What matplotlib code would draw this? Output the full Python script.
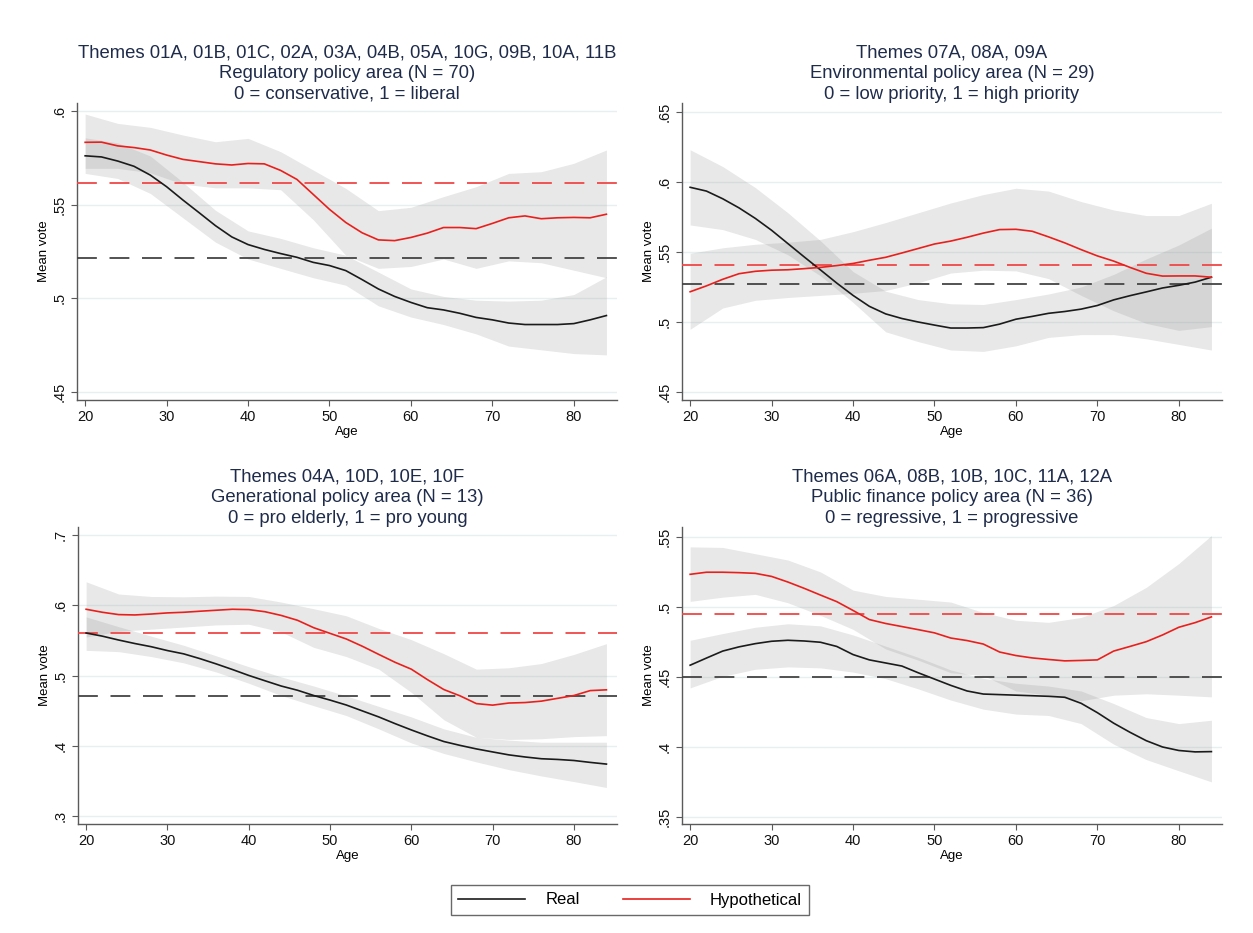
import matplotlib
matplotlib.use('Agg')
import matplotlib.pyplot as plt
from matplotlib.lines import Line2D

plt.rcParams['font.family'] = ['Liberation Sans', 'DejaVu Sans']

# ages of the smoothed lines and of the confidence bands
ages = list(range(20, 86, 2))
band_ages = list(range(20, 86, 4))

# --- Regulatory policy area
reg_real = [.5761, .5755, .5733, .5705, .5658, .5596, .5525, .5457, .5388, .5328, .5287,
            .5261, .5239, .5219, .5192, .5175, .5148, .5100, .5050, .5010, .4978, .4950,
            .4938, .4920, .4898, .4885, .4868, .4860, .4860, .4860, .4865, .4885, .4908]
reg_hyp = [.5833, .5834, .5814, .5805, .5792, .5765, .5742, .5730, .5718, .5712, .5720,
           .5718, .5683, .5635, .5555, .5475, .5405, .5350, .5312, .5308, .5325, .5348,
           .5378, .5378, .5372, .5400, .5430, .5440, .5425, .5430, .5432, .5430, .5449]
reg_real_hi = [.5857, .5830, .5760, .5620, .5470, .5360, .5320, .5270, .5230, .5140, .5050,
               .5010, .4990, .4985, .4990, .5020, .5115]
reg_real_lo = [.5667, .5640, .5560, .5430, .5300, .5210, .5160, .5110, .5070, .4960, .4900,
               .4860, .4810, .4745, .4725, .4705, .4698]
reg_hyp_hi = [.5984, .5934, .5913, .5872, .5836, .5854, .5783, .5685, .5587, .5468, .5486,
              .5543, .5596, .5667, .5676, .5721, .5792]
reg_hyp_lo = [.5694, .5694, .5670, .5610, .5590, .5590, .5580, .5420, .5230, .5160, .5170,
              .5210, .5160, .5200, .5190, .5150, .5110]
reg_means = [.5213, .5614]

# --- Environmental policy area
env_real = [.5962, .5935, .5880, .5815, .5740, .5655, .5560, .5465, .5372, .5278, .5190,
            .5112, .5058, .5025, .5000, .4978, .4957, .4957, .4960, .4985, .5020, .5040,
            .5062, .5075, .5092, .5118, .5158, .5188, .5215, .5243, .5262, .5285, .5320]
env_hyp = [.5216, .5258, .5305, .5345, .5362, .5370, .5373, .5381, .5390, .5403, .5418,
           .5441, .5462, .5493, .5525, .5557, .5578, .5605, .5635, .5660, .5662, .5648,
           .5608, .5565, .5517, .5472, .5435, .5390, .5348, .5328, .5329, .5329, .5320]
env_real_hi = [.6230, .6110, .5960, .5780, .5580, .5360, .5220, .5160, .5130, .5125, .5160,
               .5200, .5250, .5340, .5450, .5550, .5670]
env_real_lo = [.5693, .5660, .5590, .5480, .5330, .5140, .4930, .4860, .4800, .4790, .4830,
               .4890, .4910, .4910, .4880, .4840, .4800]
env_hyp_hi = [.5491, .5530, .5555, .5570, .5590, .5645, .5710, .5780, .5850, .5910, .5955,
              .5935, .5860, .5800, .5760, .5760, .5848]
env_hyp_lo = [.4948, .5100, .5155, .5175, .5190, .5205, .5225, .5280, .5350, .5370, .5365,
              .5310, .5190, .5080, .4990, .4940, .4967]
env_means = [.5269, .5407]

# --- Generational policy area
gen_real = [.5605, .5560, .5505, .5455, .5410, .5355, .5308, .5240, .5165, .5085, .5001,
            .4925, .4850, .4790, .4715, .4650, .4580, .4495, .4410, .4315, .4225, .4140,
            .4060, .4005, .3955, .3912, .3870, .3840, .3815, .3805, .3790, .3763, .3739]
gen_hyp = [.5943, .5900, .5867, .5862, .5875, .5891, .5900, .5915, .5929, .5943, .5938,
           .5908, .5855, .5786, .5680, .5600, .5520, .5415, .5300, .5188, .5090, .4940,
           .4800, .4710, .4600, .4578, .4608, .4615, .4635, .4675, .4715, .4785, .4796]
gen_real_hi = [.5834, .5695, .5560, .5430, .5280, .5125, .4980, .4850, .4710, .4560, .4410,
               .4240, .4120, .4080, .4050, .4050, .4050]
gen_real_lo = [.5358, .5340, .5270, .5180, .5050, .4890, .4715, .4570, .4430, .4240, .4040,
               .3890, .3770, .3660, .3570, .3490, .3406]
gen_hyp_hi = [.6334, .6160, .6125, .6120, .6130, .6125, .6045, .5950, .5850, .5670, .5510,
              .5310, .5090, .5110, .5170, .5300, .5453]
gen_hyp_lo = [.5548, .5630, .5660, .5690, .5720, .5730, .5620, .5400, .5270, .5090, .4760,
              .4370, .4120, .4090, .4100, .4130, .4144]
gen_means = [.4706, .5610]

# --- Public finance policy area
fin_real = [.4584, .4635, .4685, .4715, .4738, .4755, .4762, .4757, .4748, .4718, .4660,
            .4622, .4600, .4578, .4530, .4485, .4440, .4400, .4378, .4374, .4370, .4366,
            .4362, .4355, .4312, .4245, .4170, .4105, .4045, .4000, .3975, .3965, .3967]
fin_hyp = [.5233, .5248, .5248, .5245, .5240, .5218, .5178, .5133, .5085, .5038, .4975,
           .4910, .4882, .4860, .4838, .4815, .4778, .4760, .4735, .4678, .4653, .4636,
           .4625, .4615, .4618, .4622, .4685, .4718, .4752, .4800, .4855, .4888, .4929]
fin_real_hi = [.4762, .4810, .4855, .4880, .4865, .4800, .4720, .4640, .4550, .4490, .4455,
               .4435, .4400, .4310, .4210, .4167, .4191]
fin_real_lo = [.4422, .4505, .4555, .4572, .4565, .4535, .4488, .4415, .4335, .4270, .4235,
               .4225, .4167, .4020, .3910, .3830, .3751]
fin_hyp_hi = [.5429, .5425, .5380, .5335, .5250, .5120, .5075, .5055, .5035, .4960, .4905,
              .4890, .4925, .5010, .5140, .5310, .5510]
fin_hyp_lo = [.5040, .5070, .5090, .5030, .4940, .4840, .4700, .4620, .4530, .4510, .4400,
              .4370, .4330, .4370, .4380, .4370, .4358]
fin_means = [.4500, .4953]

titles = [
    'Themes 01A, 01B, 01C, 02A, 03A, 04B, 05A, 10G, 09B, 10A, 11B\n'
    'Regulatory policy area (N = 70)\n0 = conservative, 1 = liberal',
    'Themes 07A, 08A, 09A\nEnvironmental policy area (N = 29)\n0 = low priority, 1 = high priority',
    'Themes 04A, 10D, 10E, 10F\nGenerational policy area (N = 13)\n0 = pro elderly, 1 = pro young',
    'Themes 06A, 08B, 10B, 10C, 11A, 12A\nPublic finance policy area (N = 36)\n0 = regressive, 1 = progressive',
]
y_ticks = [[.45, .5, .55, .6], [.45, .5, .55, .6, .65], [.3, .4, .5, .6, .7], [.35, .4, .45, .5, .55]]
y_tick_labels = [['.45', '.5', '.55', '.6'], ['.45', '.5', '.55', '.6', '.65'],
                 ['.3', '.4', '.5', '.6', '.7'], ['.35', '.4', '.45', '.5', '.55']]
y_limits = [(.4457, .6043), (.4443, .6564), (.2886, .7114), (.345, .5571)]
x_ticks = [20, 30, 40, 50, 60, 70, 80]

panels = [
    (reg_real, reg_hyp, reg_real_lo, reg_real_hi, reg_hyp_lo, reg_hyp_hi, reg_means),
    (env_real, env_hyp, env_real_lo, env_real_hi, env_hyp_lo, env_hyp_hi, env_means),
    (gen_real, gen_hyp, gen_real_lo, gen_real_hi, gen_hyp_lo, gen_hyp_hi, gen_means),
    (fin_real, fin_hyp, fin_real_lo, fin_real_hi, fin_hyp_lo, fin_hyp_hi, fin_means),
]

W, H = 1253, 933
# axes boxes in pixels: left, top, right, bottom
boxes = [(77, 103, 617, 400), (682, 103, 1222, 400), (78, 527, 617, 824), (682, 527, 1222, 824)]

RED = '#e8201c'
BLACK = '#1b1b1b'
BAND = '#8c8c8c'
TITLE = '#1e2b4a'
SPINE = '#5a5a5a'

fig = plt.figure(figsize=(W / 100, H / 100), dpi=100)

for i, (real, hyp, r_lo, r_hi, h_lo, h_hi, means) in enumerate(panels):
    l, t, r, b = boxes[i]
    ax = fig.add_axes([l / W, (H - b) / H, (r - l) / W, (b - t) / H])

    ax.fill_between(band_ages, r_lo, r_hi, color=BAND, alpha=0.2, linewidth=0)
    ax.fill_between(band_ages, h_lo, h_hi, color=BAND, alpha=0.2, linewidth=0)

    ax.axhline(means[0], color='#444444', linewidth=1.3, dashes=(11, 7), zorder=3)
    ax.axhline(means[1], color='#f04848', linewidth=1.3, dashes=(11, 7), zorder=3)

    ax.plot(ages, real, color=BLACK, linewidth=1.2, zorder=4)
    ax.plot(ages, hyp, color=RED, linewidth=1.2, zorder=4)

    ax.set_xlim(19, 85.3)
    ax.set_ylim(*y_limits[i])
    ax.set_xticks(x_ticks)
    ax.set_yticks(y_ticks[i])
    ax.set_yticklabels(y_tick_labels[i], rotation=90, va='center')
    ax.grid(axis='y', color='#e6f0f1', linewidth=1.0, zorder=0)
    ax.set_axisbelow(True)

    for side in ['top', 'right']:
        ax.spines[side].set_visible(False)
    for side in ['left', 'bottom']:
        ax.spines[side].set_color(SPINE)
        ax.spines[side].set_linewidth(1.0)
    ax.tick_params(colors=SPINE, labelcolor='#111111', labelsize=10.5, length=4, width=0.8)

    ax.set_xlabel('Age', fontsize=9.5, labelpad=1)
    ax.set_ylabel('Mean vote', fontsize=9.5, labelpad=2)
    ax.set_title(titles[i], fontsize=13.3, color=TITLE, linespacing=1.3, pad=3)

handles = [Line2D([], [], color=BLACK, linewidth=1.2),
           Line2D([], [], color=RED, linewidth=1.2)]
leg = fig.legend(handles, ['Real', 'Hypothetical'], loc='center', ncol=2,
                 bbox_to_anchor=(630 / W, (H - 900) / H), fontsize=12,
                 handlelength=4.0, handletextpad=1.2, columnspacing=2.6,
                 fancybox=False, frameon=True, borderpad=0.45)
leg.get_frame().set_edgecolor('#444444')
leg.get_frame().set_linewidth(1.0)

fig.savefig('out.png', dpi=100, facecolor='white')
